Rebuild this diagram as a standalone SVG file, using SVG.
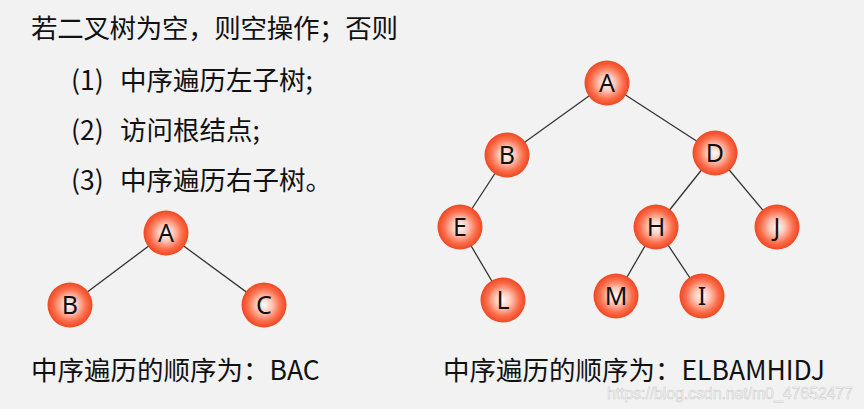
<svg xmlns="http://www.w3.org/2000/svg" width="864" height="409" viewBox="0 0 864 409">
<defs>
<radialGradient id="ball" cx="50%" cy="50%" r="50%">
<stop offset="0%" stop-color="#fffaf8"/>
<stop offset="35%" stop-color="#ffc8b8"/>
<stop offset="72%" stop-color="#fc6e4c"/>
<stop offset="100%" stop-color="#ee4722"/>
</radialGradient>
<style>
.t{font-family:"Noto Sans CJK SC","Noto Sans",sans-serif;font-size:26.5px;fill:#111}
.n circle{fill:url(#ball)}
.n text{font-family:"Noto Sans","Noto Sans CJK SC",sans-serif;font-size:25px;fill:#111;text-anchor:middle}
.e line{stroke:#333;stroke-width:1.3}
.wm{font-family:"Liberation Sans",Arial,sans-serif;font-size:16px;fill:#fafafa;stroke:#c8c8c8;stroke-width:0.5}
</style>
</defs>
<rect width="864" height="409" fill="#f2f2f2"/>
<text class="t" x="31" y="38" textLength="367">若二叉树为空，则空操作；否则</text>
<text class="t" x="71" y="90">(1)<tspan x="120">中序遍历左子树;</tspan></text>
<text class="t" x="71" y="140">(2)<tspan x="120">访问根结点;</tspan></text>
<text class="t" x="71" y="190">(3)<tspan x="120">中序遍历右子树。</tspan></text>
<g id="edges" class="e">
<line x1="166" y1="233" x2="70" y2="305"/>
<line x1="166" y1="233" x2="264" y2="305"/>
<line x1="607" y1="83" x2="507" y2="155"/>
<line x1="607" y1="83" x2="715" y2="153"/>
<line x1="507" y1="155" x2="460" y2="227"/>
<line x1="460" y1="227" x2="503" y2="300"/>
<line x1="715" y1="153" x2="656" y2="227"/>
<line x1="715" y1="153" x2="777" y2="227"/>
<line x1="656" y1="227" x2="616" y2="296"/>
<line x1="656" y1="227" x2="702" y2="296"/>
</g>
<g id="sA" class="n"><circle cx="166" cy="233" r="22.5"/><text x="166" y="242">A</text></g>
<g id="sB" class="n"><circle cx="70" cy="305" r="22.5"/><text x="70" y="314">B</text></g>
<g id="sC" class="n"><circle cx="264" cy="305" r="22.5"/><text x="264" y="314">C</text></g>
<g id="A" class="n"><circle cx="607" cy="83" r="22.5"/><text x="607" y="92">A</text></g>
<g id="B" class="n"><circle cx="507" cy="155" r="22.5"/><text x="507" y="164">B</text></g>
<g id="D" class="n"><circle cx="715" cy="153" r="22.5"/><text x="715" y="162">D</text></g>
<g id="E" class="n"><circle cx="460" cy="227" r="22.5"/><text x="460" y="236">E</text></g>
<g id="H" class="n"><circle cx="656" cy="227" r="22.5"/><text x="656" y="236">H</text></g>
<g id="J" class="n"><circle cx="777" cy="227" r="22.5"/><text x="777" y="236">J</text></g>
<g id="L" class="n"><circle cx="503" cy="300" r="22.5"/><text x="503" y="309">L</text></g>
<g id="M" class="n"><circle cx="616" cy="296" r="22.5"/><text x="616" y="305">M</text></g>
<g id="I" class="n"><circle cx="702" cy="296" r="22.5"/><text x="702" y="305">I</text></g>
<text class="t" x="31" y="380">中序遍历的顺序为：BAC</text>
<text class="t" x="443" y="380">中序遍历的顺序为：ELBAMHIDJ</text>
<text class="wm" x="607" y="399" font-size="15" textLength="246">https://blog.csdn.net/m0_47652477</text>
</svg>
